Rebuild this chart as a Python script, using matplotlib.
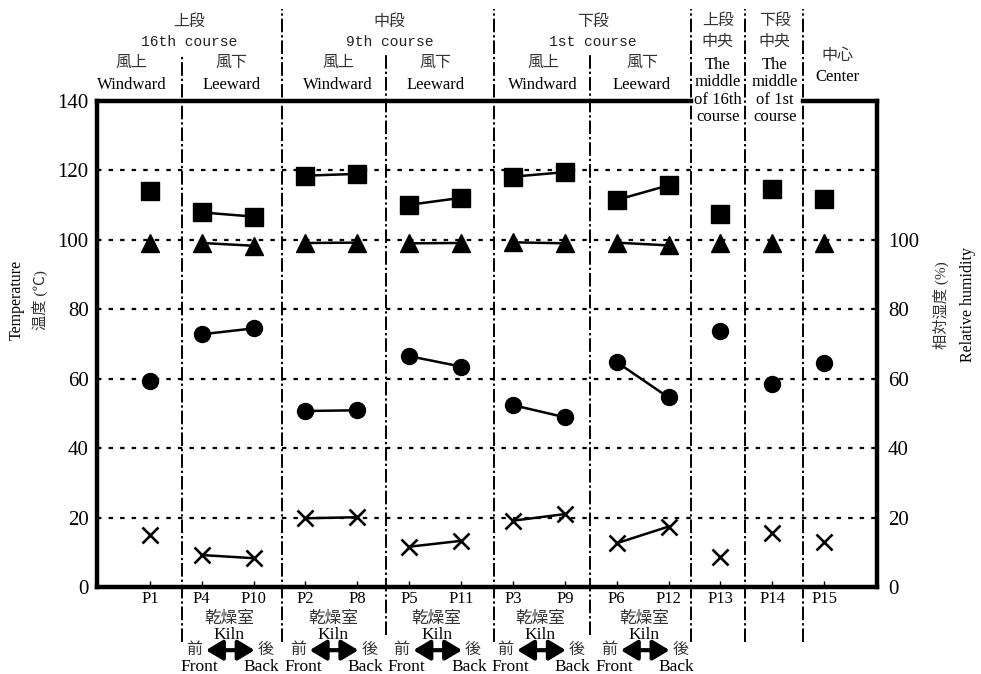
import numpy as np
import matplotlib
matplotlib.use('Agg')
import matplotlib.pyplot as plt

plt.rcParams['font.family'] = ['Liberation Serif', 'Noto Sans CJK JP']

# measuring points along the x axis
positions = ['P1', 'P4', 'P10', 'P2', 'P8', 'P5', 'P11', 'P3', 'P9', 'P6', 'P12', 'P13', 'P14', 'P15']

# values (all drawn on the same 0-140 scale)
square_vals = [114.1, 107.9, 106.7, 118.5, 119.0, 110.1, 112.1, 118.2, 119.5, 111.5, 115.7, 107.5, 114.6, 111.8]
triangle_vals = [99.1, 99.1, 98.3, 99.1, 99.2, 99.0, 99.1, 99.3, 99.0, 99.2, 98.4, 99.1, 99.1, 99.1]
circle_vals = [59.3, 72.8, 74.5, 50.7, 50.9, 66.5, 63.5, 52.4, 48.9, 64.8, 54.6, 73.8, 58.4, 64.6]
cross_vals = [15.0, 9.2, 8.3, 19.8, 20.1, 11.6, 13.3, 19.1, 21.0, 12.6, 17.4, 8.7, 15.6, 12.9]

# front/back pairs inside the kiln that are joined with a line
pairs = [(1, 2), (3, 4), (5, 6), (7, 8), (9, 10)]

left_ticks = [0, 20, 40, 60, 80, 100, 120, 140]
right_ticks = [0, 20, 40, 60, 80, 100]

# header texts above the plot
course_heads = [('上段', '16th course', 0.76), ('中段', '9th course', 4.62), ('下段', '1st course', 8.54)]
wind_heads = [('風上', 'Windward', -0.35), ('風下', 'Leeward', 1.58),
              ('風上', 'Windward', 3.63), ('風下', 'Leeward', 5.50),
              ('風上', 'Windward', 7.58), ('風下', 'Leeward', 9.49)]

# divider lines (x in data units, top / bottom in axes fraction)
dividers = [(0.61, 1.097, -0.113), (2.54, 1.19, -0.113), (4.55, 1.097, -0.099),
            (6.64, 1.19, -0.113), (8.48, 1.097, -0.099), (10.44, 1.19, -0.113),
            (11.47, 1.19, -0.113), (12.60, 1.19, -0.113)]

cjk_col = '#333333'

fig = plt.figure(figsize=(9.81, 6.74), dpi=100)
ax = fig.add_axes([97 / 981, 1 - 587 / 674, 780 / 981, 486 / 674])
x = np.arange(len(positions))

ax.set_xlim(-1.02, 14.02)
ax.set_ylim(0, 140)

# dotted grid
for v in left_ticks[1:-1]:
    ax.axhline(v, color='black', lw=1.6, ls=(0, (2, 3.2)), zorder=1)

# series
for vals, mk, ms in [(square_vals, 's', 13), (triangle_vals, '^', 12.5), (circle_vals, 'o', 11.5)]:
    ax.plot(x, vals, ls='none', marker=mk, ms=ms, color='black', zorder=3)
    for a, b in pairs:
        ax.plot([x[a], x[b]], [vals[a], vals[b]], color='black', lw=1.8, zorder=2)
ax.plot(x, cross_vals, ls='none', marker='x', ms=12, mew=1.9, color='black', zorder=3)
for a, b in pairs:
    ax.plot([x[a], x[b]], [cross_vals[a], cross_vals[b]], color='black', lw=1.8, zorder=2)

# spines
for s in ['left', 'right', 'bottom']:
    ax.spines[s].set_linewidth(3.2)
ax.spines['top'].set_visible(False)
ax.plot([-1.02, 10.44], [140, 140], color='black', lw=3.2, clip_on=False, solid_capstyle='projecting')
ax.plot([12.60, 14.02], [140, 140], color='black', lw=3.2, clip_on=False, solid_capstyle='projecting')

# ticks
ax.set_yticks(left_ticks)
ax.set_yticklabels([str(t) for t in left_ticks], fontsize=15)
ax.tick_params(axis='y', length=0, pad=6)
ax.set_xticks(x)
ax.set_xticklabels(positions, fontsize=12)
ax.tick_params(axis='x', direction='in', length=4, width=1, pad=3)

ax2 = ax.twinx()
ax2.set_ylim(0, 140)
ax2.set_yticks(right_ticks)
ax2.set_yticklabels([str(t) for t in right_ticks], fontsize=15)
ax2.tick_params(axis='y', length=0, pad=8)
for s in ax2.spines.values():
    s.set_visible(False)

# dividers
tr = ax.get_xaxis_transform()
for xd, yt, yb in dividers:
    ax.plot([xd, xd], [yb, yt], transform=tr, clip_on=False, color='black',
            lw=1.4, ls=(0, (7, 1.5, 1.2, 1.5)), zorder=4)

# headers
for jp, en, xc in course_heads:
    ax.text(xc, 1.163, jp, transform=tr, ha='center', va='center', fontsize=11.5, color=cjk_col)
    ax.text(xc, 1.121, en, transform=tr, ha='center', va='center', fontsize=10.5,
            family='Liberation Mono', color='#222222')
for jp, en, xc in wind_heads:
    ax.text(xc, 1.078, jp, transform=tr, ha='center', va='center', fontsize=11.5, color=cjk_col)
    ax.text(xc, 1.033, en, transform=tr, ha='center', va='center', fontsize=12)

for xc, jp1 in [(10.95, '上段'), (12.05, '下段')]:
    ax.text(xc, 1.165, jp1, transform=tr, ha='center', va='center', fontsize=11.5, color=cjk_col)
    ax.text(xc, 1.121, '中央', transform=tr, ha='center', va='center', fontsize=11.5, color=cjk_col)
ax.text(10.95, 1.0905, 'The\nmiddle\nof 16th\ncourse', transform=tr, ha='center', va='top',
        fontsize=12, linespacing=1.11)
ax.text(12.05, 1.0905, 'The\nmiddle\nof 1st\ncourse', transform=tr, ha='center', va='top',
        fontsize=12, linespacing=1.11)
ax.text(13.25, 1.092, '中心', transform=tr, ha='center', va='center', fontsize=11.5, color=cjk_col)
ax.text(13.25, 1.049, 'Center', transform=tr, ha='center', va='center', fontsize=12)

# kiln labels below pairs
for a, b in pairs:
    c = (x[a] + x[b]) / 2 + 0.03
    ax.text(c, -0.066, '乾燥室', transform=tr, ha='center', va='center', fontsize=12, color=cjk_col)
    ax.text(c, -0.099, 'Kiln', transform=tr, ha='center', va='center', fontsize=12.5)
    ax.text(c - 0.68, -0.130, '前', transform=tr, ha='center', va='center', fontsize=11.5, color=cjk_col)
    ax.text(c + 0.70, -0.130, '後', transform=tr, ha='center', va='center', fontsize=11.5, color=cjk_col)
    ax.text(c - 0.58, -0.165, 'Front', transform=tr, ha='center', va='center', fontsize=12.5)
    ax.text(c + 0.62, -0.165, 'Back', transform=tr, ha='center', va='center', fontsize=12.5)
    ax.annotate('', xy=(c + 0.49, -0.130), xytext=(c - 0.45, -0.130),
                xycoords=tr, textcoords=tr, annotation_clip=False,
                arrowprops=dict(arrowstyle='<|-|>,head_length=1.0,head_width=0.6',
                                lw=3, color='black', shrinkA=0, shrinkB=0))

# axis titles
fig.text(17 / 981, 1 - 300 / 674, 'Temperature', rotation=90, ha='center', va='center', fontsize=11.5)
fig.text(40 / 981, 1 - 300 / 674, '温度 (℃)', rotation=90, ha='center', va='center',
         fontsize=11, color=cjk_col)
fig.text(941 / 981, 1 - 305 / 674, '相対湿度 (%)', rotation=90, ha='center', va='center',
         fontsize=11, color=cjk_col)
fig.text(968 / 981, 1 - 305 / 674, 'Relative humidity', rotation=90, ha='center', va='center',
         fontsize=11.5)

fig.savefig('out.png', dpi=100)
